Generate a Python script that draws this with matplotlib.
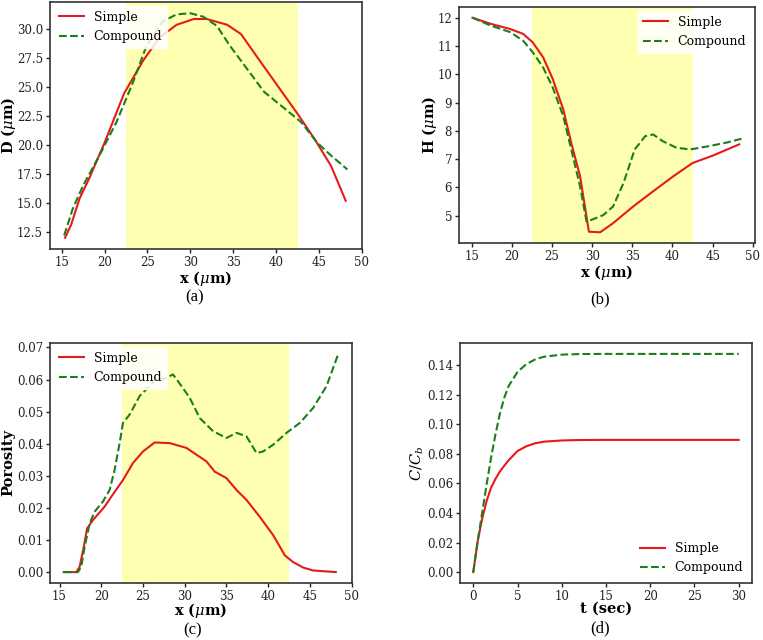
import matplotlib
matplotlib.use('Agg')
import matplotlib.pyplot as plt
from matplotlib.ticker import FormatStrFormatter

plt.rcParams['font.family'] = 'DejaVu Serif'
plt.rcParams['mathtext.fontset'] = 'dejavuserif'

# (a) D vs x
xa_simple = [15.4, 16.1, 17.1, 18.2, 20.0, 22.3, 24.5, 26.4, 28.4, 30.4, 31.9, 34.3, 35.9,
             37.8, 40.1, 42.5, 44.5, 46.4, 48.1]
da_simple = [12.0, 13.1, 15.4, 17.1, 20.2, 24.5, 27.3, 29.3, 30.4, 30.9, 30.9, 30.4, 29.6,
             27.6, 25.2, 22.7, 20.5, 18.2, 15.2]
xa_comp = [15.3, 16.3, 17.5, 19.4, 21.4, 23.3, 24.9, 26.8, 28.4, 30.0, 31.5, 33.1, 34.6,
           36.6, 38.6, 40.6, 42.9, 44.8, 46.4, 48.3]
da_comp = [12.2, 14.5, 16.5, 19.1, 22.0, 25.4, 28.6, 30.7, 31.3, 31.4, 31.1, 30.3, 28.6,
           26.6, 24.6, 23.4, 22.0, 20.2, 19.1, 17.9]

# (b) H vs x
xb_simple = [15.1, 17.3, 19.8, 21.4, 22.6, 23.9, 25.1, 26.4, 27.4, 28.5, 29.1, 29.6, 31.0,
             32.6, 35.1, 37.6, 40.1, 42.5, 45.0, 48.3]
hb_simple = [12.0, 11.79, 11.6, 11.43, 11.13, 10.6, 9.83, 8.76, 7.57, 6.39, 5.32, 4.43, 4.41,
             4.73, 5.32, 5.86, 6.39, 6.86, 7.12, 7.52]
xb_comp = [15.1, 17.3, 19.8, 21.4, 22.6, 23.9, 25.1, 26.4, 27.4, 28.5, 29.3, 30.1, 31.4,
           32.6, 33.9, 35.3, 36.6, 37.6, 38.8, 40.5, 42.2, 44.6, 46.7, 48.6]
hb_comp = [12.0, 11.73, 11.49, 11.19, 10.78, 10.24, 9.53, 8.52, 7.34, 6.03, 4.79, 4.87, 5.02,
           5.32, 6.15, 7.34, 7.81, 7.87, 7.63, 7.40, 7.34, 7.46, 7.58, 7.72]

# (c) porosity vs x
xc_simple = [15.5, 17.0, 17.4, 17.9, 18.3, 19.0, 20.4, 21.2, 22.6, 23.8, 25.0, 26.4, 28.2,
             30.2, 31.4, 32.6, 33.6, 35.0, 36.2, 37.4, 39.0, 40.6, 42.0, 43.0, 44.2, 45.4, 48.1]
pc_simple = [0.0, 0.0, 0.0016, 0.0078, 0.0136, 0.0162, 0.0204, 0.0235, 0.0287, 0.034, 0.0376,
             0.0404, 0.0402, 0.0387, 0.0366, 0.0345, 0.0313, 0.0293, 0.0256, 0.0225, 0.0172,
             0.0115, 0.0052, 0.0031, 0.0014, 0.0005, 0.0]
xc_comp = [15.5, 17.2, 17.6, 18.0, 18.6, 19.2, 20.2, 21.0, 21.6, 22.2, 22.6, 23.4, 24.6, 25.8,
           26.6, 27.4, 28.6, 29.6, 30.6, 31.8, 33.4, 35.0, 36.2, 37.4, 38.6, 39.4, 40.6, 42.2,
           43.8, 45.4, 47.0, 48.4]
pc_comp = [0.0, 0.0, 0.0016, 0.0078, 0.0151, 0.0188, 0.022, 0.0256, 0.0319, 0.0402, 0.0465,
           0.0491, 0.0549, 0.058, 0.0606, 0.0601, 0.0616, 0.058, 0.0543, 0.048, 0.0439, 0.0418,
           0.0434, 0.0423, 0.0371, 0.0376, 0.0397, 0.0434, 0.0465, 0.0512, 0.058, 0.068]

# (d) C/Cb vs t
t_vals = [0, 0.5, 1, 1.5, 2, 2.5, 3, 3.5, 4, 5, 6, 7, 8, 10, 12, 15, 20, 25, 30]
c_simple = [0, 0.021, 0.036, 0.048, 0.057, 0.063, 0.068, 0.072, 0.0757, 0.082, 0.0852, 0.0872,
            0.0883, 0.0891, 0.0894, 0.0895, 0.0895, 0.0895, 0.0895]
c_comp = [0, 0.021, 0.040, 0.059, 0.077, 0.093, 0.107, 0.118, 0.126, 0.1355, 0.1408, 0.1440,
          0.1458, 0.1472, 0.1476, 0.1477, 0.1477, 0.1477, 0.1477]

shade = (22.5, 42.5)
red = '#e8191c'
green = '#1a7f1a'
W, H = 763, 640

fig = plt.figure(figsize=(7.63, 6.4), dpi=100)
# axes boxes in pixels: left, top, right, bottom
boxes = {'a': (50, 2, 362, 249), 'b': (459, 7, 755, 243),
         'c': (50, 343, 352, 583), 'd': (460, 343, 752, 583)}
axs = {}
for k, (l, t, r, b) in boxes.items():
    axs[k] = fig.add_axes([l / W, 1 - b / H, (r - l) / W, (b - t) / H])


def style(ax):
    for s in ax.spines.values():
        s.set_color('#333333')
        s.set_linewidth(1.2)
    ax.tick_params(direction='out', length=3, width=1, labelsize=8.5, colors='#222222', pad=2)


def place_labels(k, ylab_x, xlab_y):
    l, t, r, b = boxes[k]
    ax = axs[k]
    ax.yaxis.set_label_coords((ylab_x - l) / (r - l), 0.5)
    ax.xaxis.set_label_coords(0.5, (b - xlab_y) / (b - t))
    ax.xaxis.label.set_va('center')
    ax.yaxis.label.set_va('center')


panels = [
    ('a', xa_simple, da_simple, xa_comp, da_comp, r'D ($\mu$m)', 'upper left',
     [12.5, 15.0, 17.5, 20.0, 22.5, 25.0, 27.5, 30.0], '%.1f'),
    ('b', xb_simple, hb_simple, xb_comp, hb_comp, r'H ($\mu$m)', 'upper right',
     [5, 6, 7, 8, 9, 10, 11, 12], '%d'),
    ('c', xc_simple, pc_simple, xc_comp, pc_comp, 'Porosity', 'upper left',
     [0, 0.01, 0.02, 0.03, 0.04, 0.05, 0.06, 0.07], '%.2f'),
]

for k, xs, ys, xc, yc, ylab, loc, yt, fmt in panels:
    ax = axs[k]
    ax.axvspan(shade[0], shade[1], color='yellow', alpha=0.3, lw=0)
    ax.plot(xs, ys, color=red, lw=1.5, label='Simple')
    ax.plot(xc, yc, color=green, lw=1.5, ls='--', label='Compound')
    ax.set_xticks([15, 20, 25, 30, 35, 40, 45, 50])
    ax.set_yticks(yt)
    ax.yaxis.set_major_formatter(FormatStrFormatter(fmt))
    ax.set_xlabel(r'x ($\mu$m)', fontsize=10.5, fontweight='bold')
    ax.set_ylabel(ylab, fontsize=10.5, fontweight='bold')
    ax.legend(loc=loc, fontsize=9, fancybox=False, framealpha=0.85, edgecolor='white',
              borderaxespad=0.3)
    style(ax)

ax_d = axs['d']
ax_d.plot(t_vals, c_simple, color=red, lw=1.5, label='Simple')
ax_d.plot(t_vals, c_comp, color=green, lw=1.5, ls='--', label='Compound')
ax_d.set_yticks([0, 0.02, 0.04, 0.06, 0.08, 0.10, 0.12, 0.14])
ax_d.yaxis.set_major_formatter(FormatStrFormatter('%.2f'))
ax_d.set_xlabel('t (sec)', fontsize=10.5, fontweight='bold')
ax_d.set_ylabel(r'$C/C_b$', fontsize=10.5)
ax_d.legend(loc='lower right', fontsize=9, fancybox=False, framealpha=0.85, edgecolor='white',
            borderaxespad=0.3)
style(ax_d)

place_labels('a', 9, 278)
place_labels('b', 430, 272)
place_labels('c', 8, 611)
place_labels('d', 417, 609)

cap_font = {'family': 'Liberation Serif', 'size': 12}
fig.text(195 / W, 1 - 297 / H, '(a)', ha='center', va='center', fontdict=cap_font)
fig.text(600 / W, 1 - 299 / H, '(b)', ha='center', va='center', fontdict=cap_font)
fig.text(193 / W, 1 - 630 / H, '(c)', ha='center', va='center', fontdict=cap_font)
fig.text(600 / W, 1 - 628 / H, '(d)', ha='center', va='center', fontdict=cap_font)

fig.savefig('out.png', dpi=100)
